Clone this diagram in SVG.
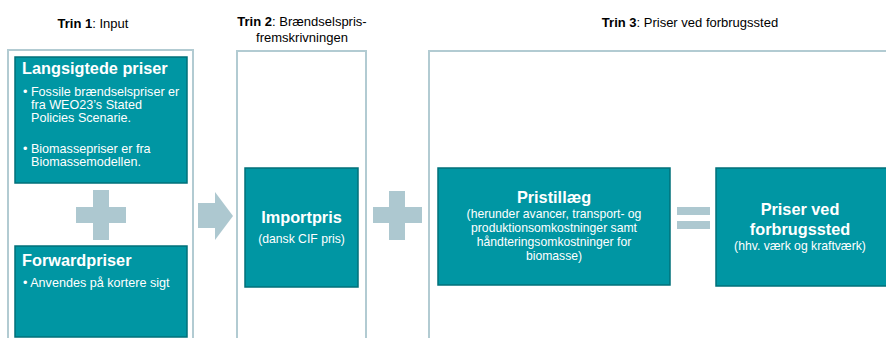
<svg xmlns="http://www.w3.org/2000/svg" width="886" height="338" viewBox="0 0 886 338">
<style>
.frame{fill:none;stroke:#b2cbd2;stroke-width:2}
.box{fill:#0096a3;stroke:#00707a;stroke-width:1.5}
.sym{fill:#adc8d0}
.hd{font-family:"Liberation Sans",Arial,sans-serif;font-size:13px;fill:#000}
.b{font-weight:bold}
.t{font-family:"Liberation Sans",Arial,sans-serif;font-size:16.3px;font-weight:bold;fill:#fff}
.s{font-family:"Liberation Sans",Arial,sans-serif;font-size:12.2px;fill:#fff}
.bl{font-family:"Liberation Sans",Arial,sans-serif;font-size:12.6px;fill:#fff}
</style>
<rect width="886" height="338" fill="#fff"/>
<g id="headers">
<text class="hd" x="93" y="28" text-anchor="middle"><tspan class="b">Trin 1</tspan>: Input</text>
<text class="hd" x="302" y="26" text-anchor="middle"><tspan class="b">Trin 2</tspan>: Brændselspris-</text>
<text class="hd" x="302" y="42" text-anchor="middle">fremskrivningen</text>
<text class="hd" x="690" y="27" text-anchor="middle"><tspan class="b">Trin 3</tspan>: Priser ved forbrugssted</text>
</g>
<g id="frames">
<path class="frame" d="M8,339 V50 H193 V339"/>
<path class="frame" d="M237,339 V51 H366 V339"/>
<path class="frame" d="M429,339 V51 H887"/>
</g>
<g id="langsigtede">
<rect class="box" x="15" y="57" width="172" height="126"/>
<text class="t" x="22" y="74">Langsigtede priser</text>
<text class="bl" x="23" y="96">• Fossile brændselspriser er</text>
<text class="bl" x="31" y="109">fra WEO23’s Stated</text>
<text class="bl" x="31" y="122">Policies Scenarie.</text>
<text class="bl" x="23" y="153">• Biomassepriser er fra</text>
<text class="bl" x="31" y="166">Biomassemodellen.</text>
</g>
<g id="forwardpriser">
<rect class="box" x="15" y="246" width="172" height="91"/>
<text class="t" x="22" y="266">Forwardpriser</text>
<text class="bl" x="23" y="287">• Anvendes på kortere sigt</text>
</g>
<g id="importpris">
<rect class="box" x="245" y="168" width="113" height="119"/>
<text class="t" x="301.5" y="223" text-anchor="middle">Importpris</text>
<text class="s" x="301.5" y="243" text-anchor="middle">(dansk CIF pris)</text>
</g>
<g id="pristillaeg">
<rect class="box" x="438" y="168" width="232" height="117"/>
<text class="t" x="554" y="203" text-anchor="middle">Pristillæg</text>
<text class="s" x="554" y="218" text-anchor="middle">(herunder avancer, transport- og</text>
<text class="s" x="554" y="232" text-anchor="middle">produktionsomkostninger samt</text>
<text class="s" x="554" y="246" text-anchor="middle">håndteringsomkostninger for</text>
<text class="s" x="554" y="260" text-anchor="middle">biomasse)</text>
</g>
<g id="forbrugssted">
<rect class="box" x="716" y="168" width="172" height="118"/>
<text class="t" x="800" y="215" text-anchor="middle">Priser ved</text>
<text class="t" x="800" y="235" text-anchor="middle">forbrugssted</text>
<text class="s" x="800" y="250" text-anchor="middle">(hhv. værk og kraftværk)</text>
</g>
<g id="connectors">
<path class="sym" d="M93,190 H109 V207 H126 V223 H109 V240 H93 V223 H76 V207 H93 Z"/>
<path class="sym" d="M198,203 H215 V192 L233,216 L215,240 V228 H198 Z"/>
<path class="sym" d="M389,191 H405 V207 H422 V223 H405 V240 H389 V223 H373 V207 H389 Z"/>
<rect class="sym" x="677" y="207" width="33" height="8"/>
<rect class="sym" x="677" y="221" width="33" height="8"/>
</g>
</svg>
